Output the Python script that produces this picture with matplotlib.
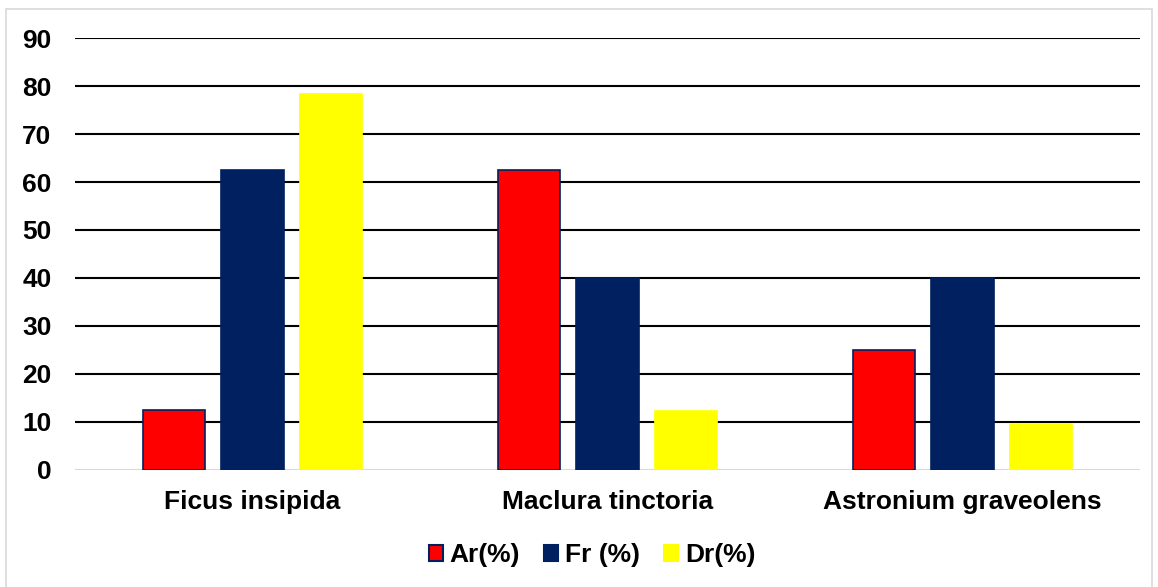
import numpy as np
import matplotlib.pyplot as plt
from matplotlib.patches import Rectangle, Patch

plt.rcParams['font.family'] = ['Liberation Sans', 'DejaVu Sans']

species = ['Ficus insipida', 'Maclura tinctoria', 'Astronium graveolens']
series_names = ['Ar(%)', 'Fr (%)', 'Dr(%)']
ar_vals = [12.5, 62.5, 25.0]
fr_vals = [62.5, 40.0, 40.0]
dr_vals = [78.4, 12.2, 9.4]
yticks = [0, 10, 20, 30, 40, 50, 60, 70, 80, 90]

colors = ['#FF0000', '#002060', '#FFFF00']
edges = ['#002060', '#002060', '#FFFF00']

fig = plt.figure(figsize=(11.58, 5.87), dpi=100)
ax = fig.add_axes([75 / 1158, 1 - 469.5 / 587, (1140 - 75) / 1158, (469.5 - 38.3) / 587])

x = np.arange(len(species))
width = 0.175
step = 0.222
for i, (vals, c, ec) in enumerate(zip([ar_vals, fr_vals, dr_vals], colors, edges)):
    ax.bar(x + (i - 1) * step, vals, width, color=c, edgecolor=ec, linewidth=1.2, zorder=3)

ax.set_xlim(-0.5, 2.5)
ax.set_ylim(0, 90)
ax.set_yticks(yticks)
ax.set_yticklabels([str(t) for t in yticks], fontsize=19, fontweight='bold')
for t in yticks[1:]:
    ax.axhline(t, color='black', lw=1.5, zorder=1)
ax.axhline(0, color='#D9D9D9', lw=1.5, zorder=2)

ax.set_xticks(x)
ax.set_xticklabels(species, fontsize=19, fontweight='bold')
ax.tick_params(axis='both', length=0)
ax.tick_params(axis='y', pad=17)
ax.tick_params(axis='x', pad=15)
for s in ax.spines.values():
    s.set_visible(False)

handles = [Patch(facecolor=c, edgecolor=ec, linewidth=1.5) for c, ec in zip(colors, edges)]
fig.legend(handles, series_names, loc='center', bbox_to_anchor=(592 / 1158, 1 - 555 / 587),
           ncol=3, frameon=False, prop={'size': 19, 'weight': 'bold'},
           handlelength=0.55, handleheight=0.55, handletextpad=0.25, columnspacing=0.9)

# light frame around the whole chart
fig.patches.append(Rectangle((6 / 1158, -0.01), 1146 / 1158, 1 - 9 / 587 + 0.01,
                             transform=fig.transFigure, fill=False,
                             edgecolor='#D9D9D9', lw=1.2))

fig.savefig('out.png', dpi=100)
